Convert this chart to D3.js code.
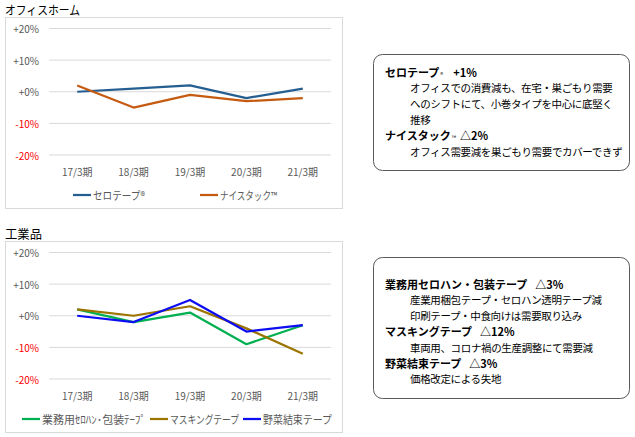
<!DOCTYPE html>
<html>
<head>
<meta charset="utf-8">
<script src="https://cdn.jsdelivr.net/npm/d3@7"></script>
<style>
body { margin: 0; background: #fff; }
text { font-family: "Noto Sans CJK JP", "Noto Sans", sans-serif; }
</style>
</head>
<body>
<svg id="chart" width="635" height="437"></svg>
<script>
// periods on the x axis
const periods = ["17/3期", "18/3期", "19/3期", "20/3期", "21/3期"];
const yTicks = [20, 10, 0, -10, -20];

// office & home (% change y/y)
const officeNames = ["セロテープ®", "ナイスタック™"];
const officeColors = ["#255E91", "#C55A11"];
const cellotape = [0, 1, 2, -2, 1];
const nicetack = [2, -5, -1, -3, -2];

// industrial
const industryNames = ["業務用ｾﾛﾊﾝ･包装ﾃｰﾌﾟ", "マスキングテープ", "野菜結束テープ"];
const industryColors = ["#00B050", "#9C7400", "#0D0DF2"];
const packTape = [2, -2, 1, -9, -3];
const maskingTape = [2, 0, 3, -4, -12];
const vegeTape = [0, -2, 5, -5, -3];

// comment boxes: [kind, text, mark, figure]
const officeNotes = [
    ["h", "セロテープ", "®", "+1%"],
    ["b", "オフィスでの消費減も、在宅・巣ごもり需要"],
    ["b", "へのシフトにて、小巻タイプを中心に底堅く"],
    ["b", "推移"],
    ["h", "ナイスタック", "™", "△2%"],
    ["b", "オフィス需要減を巣ごもり需要でカバーできず"]
];
const industryNotes = [
    ["h", "業務用セロハン・包装テープ", "", "△3%"],
    ["b", "産業用梱包テープ・セロハン透明テープ減"],
    ["b", "印刷テープ・中食向けは需要取り込み"],
    ["h", "マスキングテープ", "", "△12%"],
    ["b", "車両用、コロナ禍の生産調整にて需要減"],
    ["h", "野菜結束テープ", "", "△3%"],
    ["b", "価格改定による失地"]
];

const svg = d3.select("#chart");

function drawChart(top, title, names, colors, series, legendX, legendW, titleW) {
    svg.append("text")
        .attr("x", 5).attr("y", top - 2.5)
        .style("font-size", "12.5px")
        .attr("textLength", titleW).attr("lengthAdjust", "spacingAndGlyphs")
        .attr("fill", "#000")
        .text(title);

    svg.append("rect")
        .attr("x", 5.5).attr("y", top + 0.5)
        .attr("width", 337).attr("height", 191)
        .attr("fill", "#fff").attr("stroke", "#d9d9d9");

    let x = d3.scaleBand().domain(periods).range([49, 331]);
    let y = d3.scaleLinear().domain([-20, 20]).range([top + 138, top + 11.5]);

    let g = svg.append("g");
    g.selectAll(".grid").data(yTicks).enter().append("line")
        .attr("x1", 49).attr("x2", 331)
        .attr("y1", d => y(d)).attr("y2", d => y(d))
        .attr("stroke", "#d9d9d9").attr("stroke-width", 1);

    g.selectAll(".ytick").data(yTicks).enter().append("text")
        .attr("x", 39).attr("y", d => y(d))
        .attr("text-anchor", "end")
        .attr("dominant-baseline", "central")
        .style("font-size", "10px")
        .attr("fill", d => d < 0 ? "#FF0000" : "#595959")
        .text(d => (d < 0 ? "" : "+") + d + "%");

    g.selectAll(".xtick").data(periods).enter().append("text")
        .attr("x", d => x(d) + x.bandwidth() / 2)
        .attr("y", top + 154)
        .attr("text-anchor", "middle")
        .attr("dominant-baseline", "central")
        .style("font-size", "10px")
        .attr("fill", "#595959")
        .text(d => d);

    let line = d3.line()
        .x((d, i) => x(periods[i]) + x.bandwidth() / 2)
        .y(d => y(d));

    for (var i = 0; i < series.length; i++) {
        g.append("path")
            .attr("d", line(series[i]))
            .attr("fill", "none")
            .attr("stroke", colors[i])
            .attr("stroke-width", 2.25)
            .attr("stroke-linejoin", "round");
    }

    // legend
    for (var i = 0; i < names.length; i++) {
        let lx = legendX[i];
        let ly = top + 178;
        svg.append("line")
            .attr("x1", lx).attr("x2", lx + 18)
            .attr("y1", ly).attr("y2", ly)
            .attr("stroke", colors[i]).attr("stroke-width", 2.25);
        svg.append("text")
            .attr("x", lx + 20).attr("y", ly)
            .attr("dominant-baseline", "central")
            .style("font-size", "11px")
            .attr("textLength", legendW[i]).attr("lengthAdjust", "spacingAndGlyphs")
            .attr("fill", "#595959")
            .text(names[i]);
    }
}

function drawNotes(bx, by, bw, bh, notes, firstY) {
    svg.append("rect")
        .attr("x", bx + 0.5).attr("y", by + 0.5)
        .attr("width", bw).attr("height", bh)
        .attr("rx", 9).attr("ry", 9)
        .attr("fill", "#fff").attr("stroke", "#595959").attr("stroke-width", 1);

    for (var i = 0; i < notes.length; i++) {
        let n = notes[i];
        let t = svg.append("text")
            .attr("y", firstY + i * 15.8)
            .attr("dominant-baseline", "central")
            .attr("fill", "#000");
        if (n[0] === "h") {
            t.attr("x", bx + 12).style("font-weight", "bold").style("font-size", "11px");
            t.append("tspan").text(n[1]);
            if (n[2] !== "") {
                t.append("tspan").style("font-size", "6px").style("font-weight", "normal")
                    .attr("dx", 1).attr("dy", 2).text(n[2]);
                t.append("tspan").attr("dx", n[1].length > 5 ? 4 : 10).attr("dy", -2).text(n[3]);
            } else {
                t.append("tspan").attr("dx", 8).text(n[3]);
            }
        } else {
            t.attr("x", bx + 37)
                .style("font-size", "10.5px")
                .style("letter-spacing", "-0.35px")
                .text(n[1]);
        }
    }
}

drawChart(17, "オフィスホーム", officeNames, officeColors, [cellotape, nicetack],
    [73, 200], [52, 57], 75);
drawChart(241, "工業品", industryNames, industryColors, [packTape, maskingTape, vegeTape],
    [22, 150, 243], [104, 69, 69], 37);

drawNotes(373, 54, 256, 116, officeNotes, 72);
drawNotes(373, 257, 256, 141, industryNotes, 284);
</script>
</body>
</html>
